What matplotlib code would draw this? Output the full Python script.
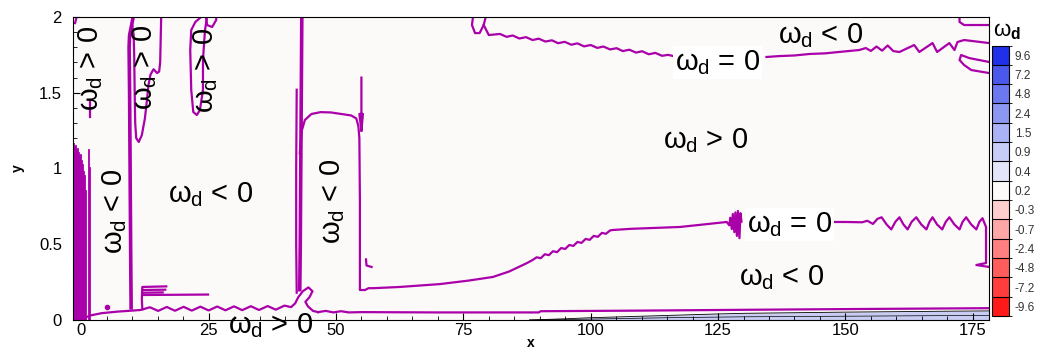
import matplotlib
matplotlib.use("Agg")
import matplotlib.pyplot as plt
from matplotlib.colors import ListedColormap, BoundaryNorm
from matplotlib.colorbar import ColorbarBase

plt.rcParams['font.family'] = ['Liberation Sans', 'DejaVu Sans']
plt.rcParams['mathtext.fontset'] = 'custom'
plt.rcParams['mathtext.rm'] = 'Liberation Sans'
plt.rcParams['mathtext.it'] = 'Liberation Sans'
plt.rcParams['mathtext.bf'] = 'Liberation Sans:bold'

PURPLE = '#aa00aa'

# ---- colour legend levels (bottom to top) ----
cbar_levels = [-9.6, -7.2, -4.8, -2.4, -0.7, -0.3, 0.2, 0.4, 0.9, 1.5, 2.4, 4.8, 7.2, 9.6]
cbar_colors = ['#ff1a1a', '#ff3d3d', '#ff5c5c', '#ff8080', '#ffa6a6', '#ffcfcf', '#fdfbf9',
               '#e3e5fb', '#c8cdf7', '#aab3f5', '#8c97f2', '#6b78ef', '#4a58ec', '#1f30e8']

# ---- zero contour of omega_d ----
left_spike_x = [-1.5, -1.3, -1.1, -0.9, -0.7, -0.5, -0.3, -0.1, 0.1, 0.3, 0.5, 0.7, 0.9, 1.5, 1.8]
left_spike_top = [1.16, 1.14, 1.15, 1.12, 1.13, 1.10, 1.08, 1.09, 1.05, 1.02, 0.98, 0.95, 0.85, 1.12, 1.0]

bottom_left_x = [0.0, 1.8, 4.0, 7.0, 10.0, 11.6, 13.5, 15.1, 16.8, 18.4, 20.1, 21.7, 23.4, 25.0,
                 26.7, 28.3, 30.0, 31.6, 33.3, 34.9, 36.6, 38.2, 39.9, 41.2, 42.0, 42.6,
                 43.5, 44.6, 45.4, 44.8, 44.0, 44.5, 45.5, 46.5]
bottom_left_y = [0.005, 0.030, 0.045, 0.055, 0.062, 0.066, 0.084, 0.060, 0.086, 0.061, 0.087, 0.062,
                 0.088, 0.063, 0.089, 0.064, 0.090, 0.065, 0.091, 0.066, 0.092, 0.068, 0.095, 0.085,
                 0.11, 0.15, 0.19, 0.215, 0.19, 0.15, 0.12, 0.09, 0.06, 0.052]

bottom_right_x = [46.5, 48.0, 49.5, 51.0, 52.5, 55.0, 70.0, 89.8, 90.2, 110.0, 125.0, 150.0, 178.2]
bottom_right_y = [0.052, 0.060, 0.050, 0.058, 0.050, 0.052, 0.050, 0.050, 0.058, 0.062, 0.066, 0.072, 0.078]

col1_x = [9.8, 9.7, 9.6, 9.5, 9.4, 9.5, 9.8, 10.2]
col1_y = [0.08, 0.5, 1.0, 1.5, 1.80, 1.88, 1.93, 2.0]

col2_x = [15.7, 15.6, 15.5, 15.3, 14.9, 14.2, 13.6, 13.2, 12.9, 12.5, 11.9, 11.3, 10.8, 10.6, 10.5, 10.4, 10.3, 10.0]
col2_y = [2.0, 1.85, 1.70, 1.64, 1.63, 1.655, 1.62, 1.55, 1.45, 1.33, 1.22, 1.175, 1.20, 1.30, 1.5, 1.75, 1.88, 1.95]

col3_x = [24.7, 24.3, 23.9, 23.9, 23.3, 22.7, 22.0, 21.6, 21.4, 21.6, 22.4, 23.3]
col3_y = [2.0, 1.914, 1.716, 1.518, 1.386, 1.353, 1.373, 1.518, 1.782, 1.914, 1.967, 1.993]

col3b_x = [24.5, 24.7, 25.7, 26.5, 26.5]
col3b_y = [2.0, 1.947, 1.934, 1.98, 2.0]

corner_x = [-1.2, -0.9]
corner_y = [1.96, 2.0]
stub_x = [1.8, 1.8]
stub_y = [1.452, 1.340]

f_vert_x = [12.0, 11.9, 12.0, 16.7]
f_vert_y = [0.07, 0.14, 0.218, 0.222]
f_mid_x = [12.1, 16.5]
f_mid_y = [0.198, 0.200]
f_low_x = [12.1, 16.0]
f_low_y = [0.180, 0.182]
f_long_x = [12.1, 24.9]
f_long_y = [0.165, 0.168]

wall_x = [43.3, 43.2, 43.1, 43.0, 42.9]
wall_y = [2.0, 1.5, 1.0, 0.5, 0.2]
wall2_x = [42.3, 42.2, 42.2, 42.3]
wall2_y = [1.52, 1.0, 0.5, 0.18]

loop_x = [42.9, 43.3, 43.9, 45.2, 47.0, 49.0, 51.0, 53.0, 54.0, 54.4, 54.6, 54.7, 54.7, 55.7, 56.4, 57.3, 58.0,
          62.5, 70.4, 76.0, 80.8, 84.0, 87.5, 88.6,
          89.4, 90.2, 91.0, 91.8, 92.6, 93.4, 94.2, 95.0, 95.8, 96.6, 97.4, 98.2, 99.0, 99.8,
          100.6, 101.4, 102.2, 103.0, 103.8, 104.3, 108.0, 112.0, 117.5, 122.0, 126.7,
          127.2, 127.4, 127.7, 127.9, 128.2, 128.4, 128.7, 128.9, 129.2, 129.4, 129.6]
loop_y = [1.10, 1.25, 1.32, 1.36, 1.372, 1.37, 1.36, 1.35, 1.33, 1.28, 1.20, 0.80, 0.198, 0.198, 0.21, 0.21, 0.211,
          0.218, 0.237, 0.26, 0.284, 0.32, 0.376, 0.396,
          0.414, 0.408, 0.434, 0.428, 0.454, 0.448, 0.475, 0.469, 0.495, 0.489, 0.515, 0.509, 0.535, 0.529,
          0.555, 0.549, 0.575, 0.569, 0.591, 0.594, 0.602, 0.607, 0.614, 0.630, 0.647,
          0.625, 0.675, 0.600, 0.700, 0.580, 0.710, 0.555, 0.720, 0.540, 0.705, 0.650]

spike_x = [55.0, 55.0, 54.6, 55.3, 55.0]
spike_y = [1.60, 1.25, 1.36, 1.36, 1.25]
small_x = [55.9, 56.0, 57.0]
small_y = [0.40, 0.36, 0.35]

lower_right_x = [147.8, 150.0, 153.3, 154.3, 155.4, 156.3, 157.1, 158.1, 159.0, 159.8, 160.6, 161.4, 162.2,
                 163.0, 163.9, 164.9, 165.9, 166.5, 167.1, 168.0, 169.0, 169.7, 170.4, 171.4, 172.4,
                 173.0, 173.7, 174.7, 175.7, 176.3, 176.9, 177.6, 177.6, 175.7, 178.2]
lower_right_y = [0.647, 0.647, 0.645, 0.655, 0.634, 0.668, 0.678, 0.630, 0.598, 0.648, 0.678, 0.630, 0.598,
                 0.648, 0.678, 0.630, 0.598, 0.648, 0.678, 0.630, 0.598, 0.648, 0.678, 0.630, 0.598,
                 0.648, 0.678, 0.630, 0.598, 0.648, 0.672, 0.614, 0.376, 0.363, 0.350]

upper_x = [79.0, 80.0, 82.2, 83.5, 84.7, 86.0, 87.3, 88.6, 89.8, 91.1, 92.4, 93.6, 94.9, 96.2, 97.4, 98.7,
           100.0, 101.3, 102.5, 103.8, 105.1, 106.3, 107.6, 108.9, 110.1, 111.4, 112.7, 114.0, 115.2, 116.5]
upper_y = [1.947, 1.881, 1.888, 1.869, 1.878, 1.858, 1.867, 1.848, 1.857, 1.838, 1.846, 1.827, 1.836, 1.817,
           1.826, 1.806, 1.815, 1.796, 1.805, 1.786, 1.794, 1.775, 1.784, 1.765, 1.774, 1.754, 1.763, 1.744,
           1.750, 1.740]
squiggle_x = [76.9, 76.7, 77.3, 78.2, 79.0, 79.4]
squiggle_y = [2.0, 1.947, 1.894, 1.894, 1.947, 2.0]

upper_right_x = [134.5, 137.0, 140.0, 143.0, 146.0, 149.0, 152.7, 154.0, 155.0, 156.1, 157.2, 158.3, 159.4,
                 160.6, 163.5, 164.5, 167.1, 168.0, 170.4, 171.4, 172.0, 173.3, 178.2]
upper_right_y = [1.736, 1.742, 1.746, 1.756, 1.760, 1.770, 1.782, 1.795, 1.776, 1.805, 1.778, 1.812, 1.775,
                 1.769, 1.815, 1.769, 1.828, 1.769, 1.828, 1.782, 1.835, 1.848, 1.828]
top_edge_x = [172.4, 172.4, 173.3, 176.3, 178.2]
top_edge_y = [2.0, 1.967, 1.947, 1.947, 1.947]
right_lobe_x = [178.2, 174.3, 172.7, 172.4, 173.3, 174.7, 178.2]
right_lobe_y = [1.703, 1.729, 1.749, 1.716, 1.683, 1.650, 1.630]

# thin positive layer along the wall
wall_fill_x = [88, 95, 100, 105, 110, 115, 120, 125, 130, 140, 150, 160, 170, 178.2]
wall_fill_top = [0, 0.008, 0.015, 0.020, 0.025, 0.030, 0.035, 0.040, 0.044, 0.048, 0.052, 0.055, 0.058, 0.060]
wall_fill_mid = [0, 0.003, 0.006, 0.009, 0.012, 0.015, 0.017, 0.019, 0.021, 0.023, 0.025, 0.027, 0.029, 0.030]

labels_h = [('<', 17.1, 0.779, False), ('>', 28.8, -0.086, False), ('=', 116.5, 1.650, True),
            ('<', 136.7, 1.828, False), ('>', 114.1, 1.135, False), ('=', 130.6, 0.581, True),
            ('<', 129.2, 0.231, False)]
labels_v = [('>', 1.76, 1.663), ('>', 12.5, 1.67), ('>', 24.5, 1.644), ('<', 6.6, 0.719), ('<', 49.3, 0.785)]

fig = plt.figure(figsize=(10.45, 3.49), dpi=100)
ax = fig.add_axes([0.0699, 0.0831, 0.8766, 0.8682])
ax.set_facecolor('#fcfaf8')

ax.fill_between(wall_fill_x, 0, wall_fill_top, color='#c9cdf4', lw=0)
ax.plot(wall_fill_x, wall_fill_top, color='black', lw=0.6)
ax.plot(wall_fill_x, wall_fill_mid, color='black', lw=0.5)

for sx, top in zip(left_spike_x, left_spike_top):
    ax.plot([sx, sx], [0, top], color=PURPLE, lw=1.3)

curves = [(bottom_left_x, bottom_left_y), (bottom_right_x, bottom_right_y), (col1_x, col1_y),
          (col2_x, col2_y), (col3_x, col3_y), (col3b_x, col3b_y), (corner_x, corner_y), (stub_x, stub_y),
          (f_vert_x, f_vert_y), (f_mid_x, f_mid_y), (f_low_x, f_low_y), (f_long_x, f_long_y),
          (wall2_x, wall2_y), (loop_x, loop_y), (spike_x, spike_y), (small_x, small_y),
          (lower_right_x, lower_right_y), (upper_x, upper_y), (squiggle_x, squiggle_y),
          (upper_right_x, upper_right_y), (top_edge_x, top_edge_y), (right_lobe_x, right_lobe_y)]
for cx, cy in curves:
    ax.plot(cx, cy, color=PURPLE, lw=1.6, solid_joinstyle='round')
ax.plot(col1_x, col1_y, color=PURPLE, lw=2.6)
ax.plot(wall_x, wall_y, color=PURPLE, lw=2.6)
ax.plot([5.1], [0.086], 'o', color=PURPLE, ms=3)

for sign, tx, ty, boxed in labels_h:
    kw = {}
    if boxed:
        kw['bbox'] = dict(facecolor='white', edgecolor='none', pad=1.5)
    ax.text(tx, ty, r'$\omega_{\rm d}$ ' + sign + ' 0', fontsize=21, ha='left', va='baseline',
            zorder=5, **kw)
for sign, tx, ty in labels_v:
    ax.text(tx, ty, r'$\omega_{\rm d}$ ' + sign + ' 0', fontsize=21, ha='center', va='center',
            rotation=90, zorder=5)

ax.set_xlim(-1.6, 178.2)
ax.set_ylim(0, 2)
ax.set_xticks([0, 25, 50, 75, 100, 125, 150, 175])
ax.set_xticks(range(0, 180, 5), minor=True)
ax.set_yticks([0, 0.5, 1, 1.5, 2])
ax.set_yticklabels(['0', '0.5', '1', '1.5', '2'])
ax.set_yticks([i / 10 for i in range(21)], minor=True)
ax.tick_params(which='both', direction='in', labelsize=12, top=False, right=False)
ax.tick_params(which='major', length=5, width=0.8)
ax.tick_params(which='minor', length=3, width=0.6)
ax.tick_params(axis='x', pad=2)
ax.tick_params(axis='y', pad=8)
ax.set_xlabel('x', fontsize=10, fontweight='bold', labelpad=-1)
ax.set_ylabel('y', fontsize=10, fontweight='bold', labelpad=10)

cax = fig.add_axes([0.9493, 0.0946, 0.0163, 0.775])
cmap = ListedColormap(cbar_colors)
norm = BoundaryNorm(range(len(cbar_colors) + 1), len(cbar_colors))
cb = ColorbarBase(cax, cmap=cmap, norm=norm, drawedges=True)
cb.set_ticks([i + 0.5 for i in range(len(cbar_levels))])
cb.set_ticklabels([str(v) for v in cbar_levels])
cb.outline.set_linewidth(0.8)
cb.dividers.set_linewidth(0.8)
cax.tick_params(length=0, labelsize=8.5, colors='#333333', pad=4)
fig.text(0.9635, 0.895, r'$\omega_{\bf d}$', fontsize=16, ha='center', va='baseline')

fig.savefig('out.png', dpi=100)
